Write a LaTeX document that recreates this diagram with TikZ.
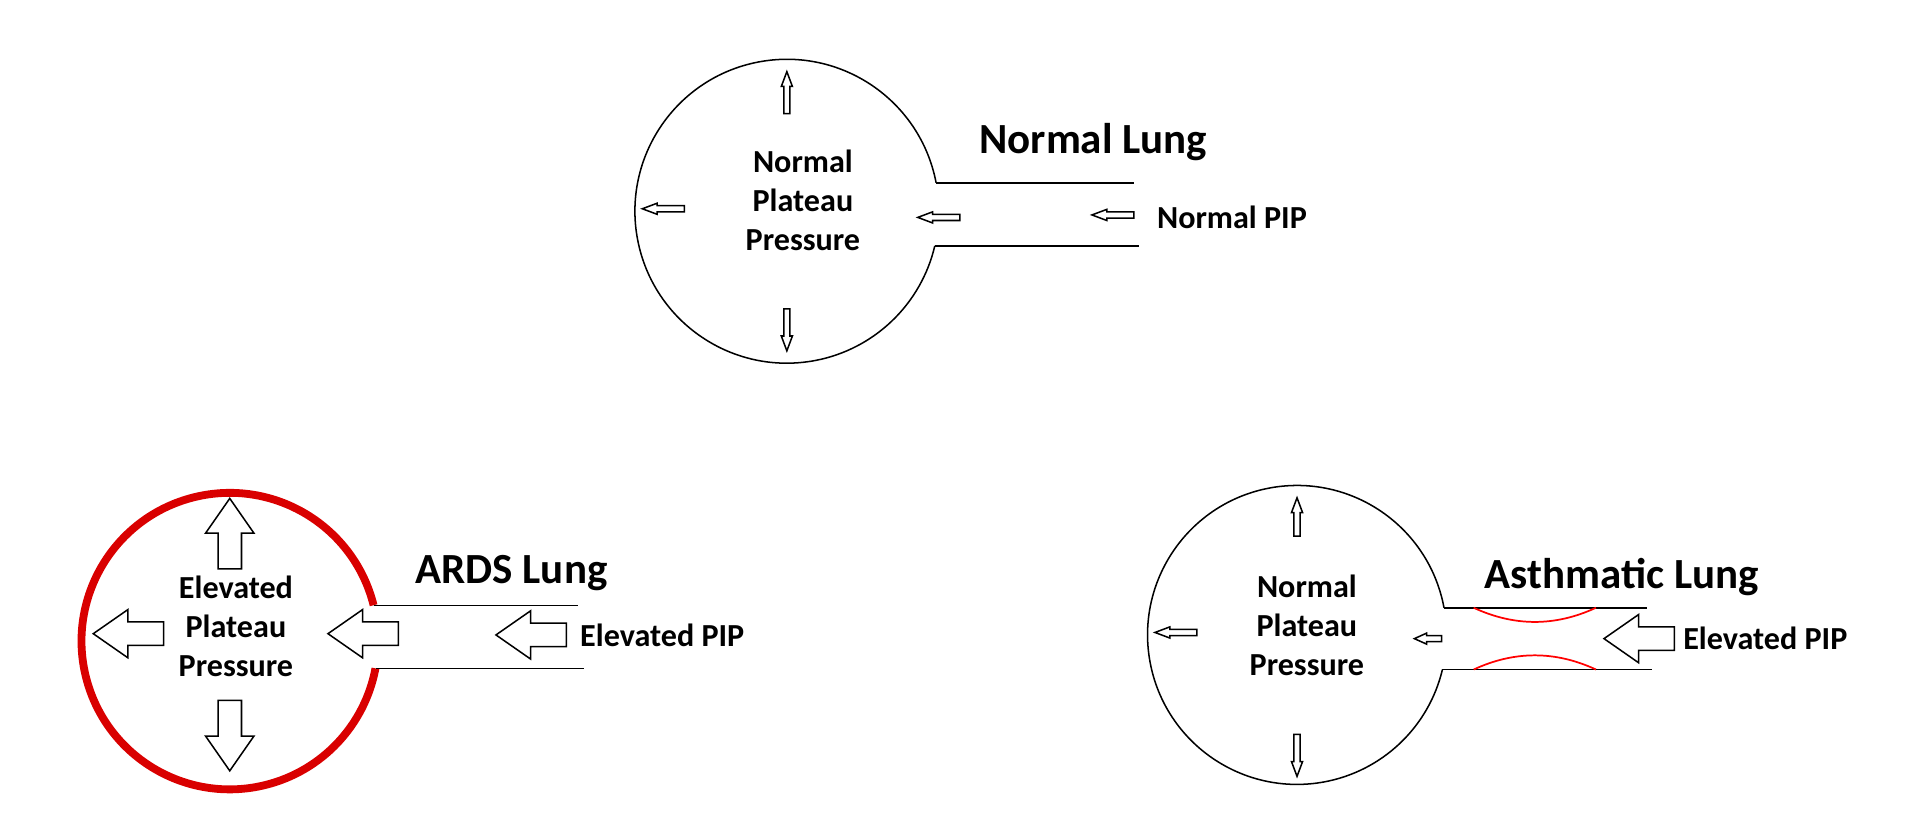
\documentclass[tikz,border=0pt]{standalone}
\usepackage{fontspec}
\setmainfont{Carlito}
\usetikzlibrary{calc}
\tikzset{
  x=0.1mm,y=0.1mm,
  thinline/.style={line width=0.35pt,black},
  body/.style={font=\bfseries\fontsize{7.4}{9}\selectfont,align=center},
  ttl/.style={font=\bfseries\fontsize{9.9}{11}\selectfont},
  lbl/.style={font=\bfseries\fontsize{7.4}{9}\selectfont,anchor=west,inner sep=0pt},
  pics/barrow/.style args={#1/#2/#3/#4}{code={
    \draw[line width=0.35pt,fill=white] (-#1/2,-#3/2) -- (#1/2-#4,-#3/2) -- (#1/2-#4,-#2/2) -- (#1/2,0)
      -- (#1/2-#4,#2/2) -- (#1/2-#4,#3/2) -- (-#1/2,#3/2) -- cycle;}}
}
\begin{document}
\begin{tikzpicture}
\useasboundingbox (0,0) rectangle (1560,668);
% Normal lung
\coordinate (nc) at (637,497);
\draw[thinline] ($(nc)+(10.8:123)$) arc[start angle=10.8,end angle=346.8,radius=123];
\draw[thinline] (757.8,520) -- (918,520);
\draw[thinline] (756.7,469) -- (922,469);
\node[body] (ntext) at (650,506) {Normal\\Plateau\\Pressure};
\node[ttl] (ntitle) at (885,553) {Normal Lung};
\node[lbl] (npip) at (936,492) {Normal PIP};
\pic[rotate=90] at (637,593) {barrow=34/9/5/12};
\pic[rotate=180] at (537,499) {barrow=34/9/5/12};
\pic[rotate=180] at (760,492) {barrow=34/9/5/12};
\pic[rotate=180] at (901,494) {barrow=34/9/5/12};
\pic[rotate=-90] at (637,401) {barrow=34/9/5/12};
% ARDS lung
\coordinate (ac) at (186,149);
\draw[red!85!black,line width=1.8pt] ($(ac)+(14:120)$) arc[start angle=14,end angle=349.4,radius=120];
\draw[thinline] (302.4,178) -- (468,178);
\draw[thinline] (304,127) -- (473,127);
\node[body] (atext) at (191,161) {Elevated\\Plateau\\Pressure};
\node[ttl] (atitle) at (414,204) {ARDS Lung};
\node[lbl] (apip) at (469,154) {Elevated PIP};
\pic[rotate=90] at (186,236) {barrow=57/39/19/28};
\pic[rotate=180] at (104,155) {barrow=57/39/19/28};
\pic[rotate=180] at (294,155) {barrow=57/39/19/28};
\pic[rotate=180] at (430,154) {barrow=57/39/19/28};
\pic[rotate=-90] at (186,72.5) {barrow=57/39/19/28};
% Asthmatic lung
\coordinate (sc) at (1050,154);
\draw[thinline] ($(sc)+(10.5:121)$) arc[start angle=10.5,end angle=346.6,radius=121];
\draw[thinline] (1169,176) -- (1333,176);
\draw[thinline] (1167.7,126) -- (1337,126);
\draw[red,line width=0.4pt] (1193,176) .. controls (1226,160.7) and (1259,160.7) .. (1292,176);
\draw[red,line width=0.4pt] (1193,126) .. controls (1226,141.3) and (1259,141.3) .. (1292,126);
\node[body] (stext) at (1058,162) {Normal\\Plateau\\Pressure};
\node[ttl] (stitle) at (1313,201) {Asthmatic Lung};
\node[lbl] (spip) at (1362,151) {Elevated PIP};
\pic[rotate=90] at (1050,249.5) {barrow=31/9/5/12};
\pic[rotate=180] at (952,156) {barrow=34/9/5/12};
\pic[rotate=180] at (1156,151) {barrow=22/9/5/10};
\pic[rotate=180] at (1327,151) {barrow=57/39/19/28};
\pic[rotate=-90] at (1050,56.5) {barrow=34/9/5/12};
\end{tikzpicture}
\end{document}
